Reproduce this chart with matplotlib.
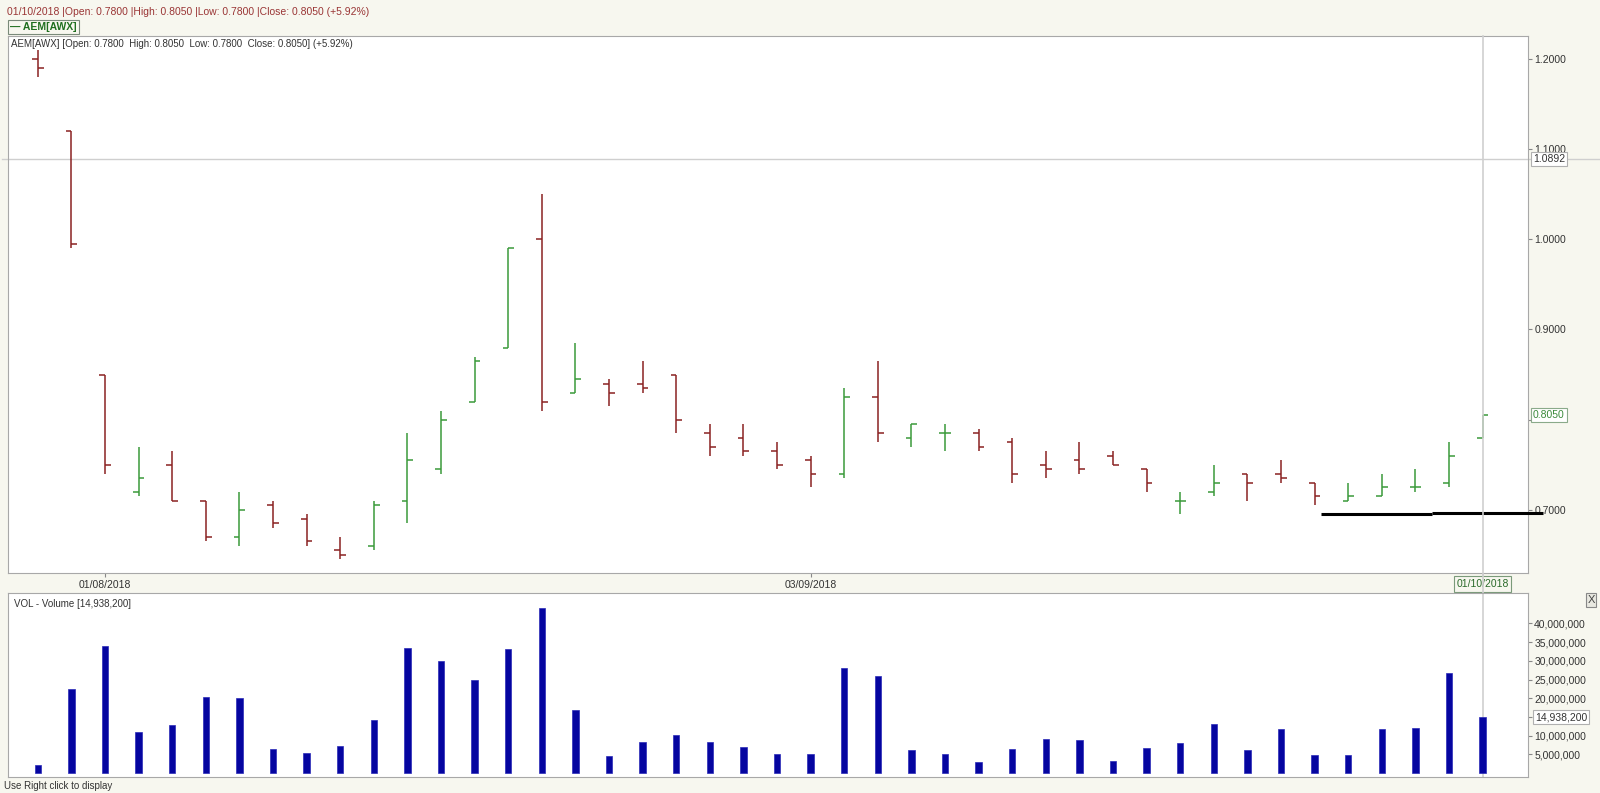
import matplotlib.pyplot as plt
import pandas as pd

plt.rcParams['font.family'] = ['Liberation Sans', 'DejaVu Sans']

# trading days (SGX), 9 Aug and 22 Aug are holidays
dates = pd.bdate_range('2018-07-30', '2018-10-01')
dates = dates[~dates.isin(pd.to_datetime(['2018-08-09', '2018-08-22']))]

opens = [1.200, 1.120, 0.850, 0.720, 0.750, 0.710, 0.670, 0.705, 0.690, 0.655, 0.660,
         0.710, 0.745, 0.820, 0.880, 1.000, 0.830, 0.840, 0.840, 0.850, 0.785, 0.780,
         0.765, 0.755, 0.740, 0.825, 0.780, 0.785, 0.785, 0.775, 0.750, 0.755, 0.760,
         0.745, 0.710, 0.720, 0.740, 0.740, 0.730, 0.710, 0.715, 0.725, 0.730, 0.780]
highs = [1.210, 1.120, 0.850, 0.770, 0.765, 0.710, 0.720, 0.710, 0.695, 0.670, 0.710,
         0.785, 0.810, 0.870, 0.990, 1.050, 0.885, 0.845, 0.865, 0.850, 0.795, 0.795,
         0.775, 0.760, 0.835, 0.865, 0.795, 0.795, 0.790, 0.780, 0.765, 0.775, 0.765,
         0.745, 0.720, 0.750, 0.740, 0.755, 0.730, 0.730, 0.740, 0.745, 0.775, 0.805]
lows = [1.180, 0.990, 0.740, 0.715, 0.710, 0.665, 0.660, 0.680, 0.660, 0.645, 0.655,
        0.685, 0.740, 0.820, 0.880, 0.810, 0.830, 0.815, 0.830, 0.785, 0.760, 0.760,
        0.745, 0.725, 0.735, 0.775, 0.770, 0.765, 0.765, 0.730, 0.735, 0.740, 0.750,
        0.720, 0.695, 0.715, 0.710, 0.730, 0.705, 0.710, 0.715, 0.720, 0.725, 0.780]
closes = [1.190, 0.995, 0.750, 0.735, 0.710, 0.670, 0.700, 0.685, 0.665, 0.650, 0.705,
          0.755, 0.800, 0.865, 0.990, 0.820, 0.845, 0.830, 0.835, 0.800, 0.770, 0.765,
          0.750, 0.740, 0.825, 0.785, 0.795, 0.785, 0.770, 0.740, 0.745, 0.745, 0.750,
          0.730, 0.710, 0.730, 0.730, 0.735, 0.715, 0.715, 0.725, 0.725, 0.760, 0.805]
volumes = [2.1, 22.5, 33.9, 11.0, 12.8, 20.3, 20.1, 6.3, 5.3, 7.1,
           14.2, 33.3, 29.9, 24.8, 33.1, 44.2, 16.8, 4.5, 8.2, 10.2,
           8.2, 6.9, 5.1, 5.1, 28.2, 26.0, 6.1, 5.1, 2.9, 6.3,
           9.2, 8.9, 3.2, 6.6, 7.9, 13.1, 6.1, 11.8, 4.8, 4.8,
           11.8, 12.1, 26.7, 14.9382]
volumes = [v * 1e6 for v in volumes]

# user drawn support lines (bar index from, bar index to, price)
support_x = [(38.2, 41.5), (41.5, 44.8)]
support_y = [0.6948, 0.6963]
cross_price = 1.0892

UP = '#3a9a3a'
DOWN = '#8a2222'
BG = '#f7f7ef'
EDGE = '#a8a8a8'
TXT = '#333333'

W, H = 1600, 793
fig = plt.figure(figsize=(16, 7.93), dpi=100, facecolor=BG)


def fx(x):
    return x / W


def fy(y):
    return 1 - y / H


ax = fig.add_axes([fx(8), fy(573), fx(1520), (573 - 36) / H])
vax = fig.add_axes([fx(8), fy(777), fx(1520), (777 - 593) / H])

n = len(dates)
xs = list(range(n))
tick = 0.17
for i in xs:
    c = UP if closes[i] >= opens[i] else DOWN
    ax.vlines(i, lows[i], highs[i], color=c, lw=1.1)
    ax.hlines(opens[i], i - tick, i, color=c, lw=1.1)
    ax.hlines(closes[i], i, i + tick, color=c, lw=1.1)

for (x0, x1), p in zip(support_x, support_y):
    ax.plot([x0, x1], [p, p], color='black', lw=2.2, clip_on=False, zorder=5,
            solid_capstyle='butt')

xmin, xmax = -0.887, 44.35
ax.set_xlim(xmin, xmax)
ax.set_ylim(0.6296, 1.2259)
ax.set_facecolor('white')
ax.yaxis.tick_right()
ax.set_yticks([0.7, 0.8, 0.9, 1.0, 1.1, 1.2])
# 0.8000 sits under the last-close marker, as in the source
ax.set_yticklabels(['0.7000', '', '0.9000', '1.0000', '1.1000', '1.2000'])
ax.tick_params(axis='y', length=3, width=0.8, color='#888888', pad=1.5,
               labelsize=7.5, labelcolor=TXT)

# month start labels
month_pos = [i for i in range(1, n) if dates[i].month != dates[i - 1].month]
ax.set_xticks(month_pos[:-1])
ax.set_xticklabels([dates[i].strftime('%d/%m/%Y') for i in month_pos[:-1]])
ax.tick_params(axis='x', length=3, width=0.8, color='#888888', pad=2,
               labelsize=7.5, labelcolor=TXT)
for s in ax.spines.values():
    s.set_color(EDGE)

# crosshair
last = n - 1
ax.axvline(last, ymin=-0.04, ymax=1, color='#cfcfcf', lw=1.2, clip_on=False, zorder=6)
ax.axhline(cross_price, xmin=-0.004, xmax=(W - 8) / 1520, color='#cfcfcf', lw=1,
           clip_on=False, zorder=1)
ax.annotate(f'{cross_price:.4f}', xy=(1.0, cross_price),
            xycoords=('axes fraction', 'data'), xytext=(5, 0),
            textcoords='offset pixels', va='center', ha='left', fontsize=7.5,
            color=TXT, zorder=7,
            bbox=dict(boxstyle='square,pad=0.2', fc='white', ec='#b0b0b0', lw=0.8))
ax.annotate(f'{closes[-1]:.4f}', xy=(1.0, closes[-1]),
            xycoords=('axes fraction', 'data'), xytext=(5, 0),
            textcoords='offset pixels', va='center', ha='left', fontsize=7.5,
            color='#3a8a3a', zorder=7,
            bbox=dict(boxstyle='square,pad=0.2', fc='white', ec='#8aaa8a', lw=0.8))
ax.annotate(dates[last].strftime('%d/%m/%Y'), xy=(last, 0),
            xycoords=('data', 'axes fraction'), xytext=(0, -11),
            textcoords='offset pixels', va='center', ha='center', fontsize=7.5,
            color='#2a6a2a', zorder=8,
            bbox=dict(boxstyle='square,pad=0.25', fc=BG, ec='#7a9a7a', lw=0.8))

# volume panel
vax.bar(xs, volumes, width=0.19, color='#0505a0', edgecolor='#2a2ab8', lw=0.5)
vax.set_xlim(xmin, xmax)
vax.set_ylim(-1.07e6, 48.13e6)
vax.set_facecolor('white')
vax.set_xticks([])
vax.yaxis.tick_right()
vt = [5e6 * k for k in range(1, 9)]
vax.set_yticks(vt)
vax.set_yticklabels([f'{int(v):,}' for v in vt])
vax.tick_params(axis='y', length=3, width=0.8, color='#888888', pad=1.5,
                labelsize=7.5, labelcolor=TXT)
for s in vax.spines.values():
    s.set_color(EDGE)
vax.axvline(last, ymin=0, ymax=1.1, color='#cfcfcf', lw=1.2, clip_on=False, zorder=0.5)
vax.annotate(f'{int(volumes[-1]):,}', xy=(1.0, volumes[-1]),
             xycoords=('axes fraction', 'data'), xytext=(7, 0),
             textcoords='offset pixels', va='center', ha='left', fontsize=7.5,
             color=TXT, zorder=7,
             bbox=dict(boxstyle='square,pad=0.2', fc='white', ec='#b0b0b0', lw=0.8))
vax.text(0.004, 0.97, f'VOL - Volume [{int(volumes[-1]):,}]', transform=vax.transAxes,
         va='top', ha='left', fontsize=7, color=TXT)

# header texts
fig.text(fx(7), fy(12), '01/10/2018 |Open: 0.7800 |High: 0.8050 |Low: 0.7800 '
         '|Close: 0.8050 (+5.92%)', fontsize=7.5, color='#9a3535', va='center')
fig.text(fx(10), fy(27), '\u2014 AEM[AWX]', fontsize=7.5, color='#1f6f1f',
         fontweight='bold', va='center',
         bbox=dict(boxstyle='square,pad=0.2', fc=BG, ec='#7a8a7a', lw=0.8))
fig.text(fx(11), fy(44), 'AEM[AWX] [Open: 0.7800  High: 0.8050  Low: 0.7800  '
         'Close: 0.8050] (+5.92%)', fontsize=7, color=TXT, va='center')
fig.text(fx(1591), fy(600), 'X', fontsize=8, color='#444444', ha='center', va='center',
         bbox=dict(boxstyle='square,pad=0.15', fc='#e8e8e0', ec='#888888', lw=0.8))
fig.text(fx(4), fy(781), 'Use Right click to display', fontsize=7, color=TXT,
         va='top')

fig.savefig('out.png', dpi=100, facecolor=BG)
